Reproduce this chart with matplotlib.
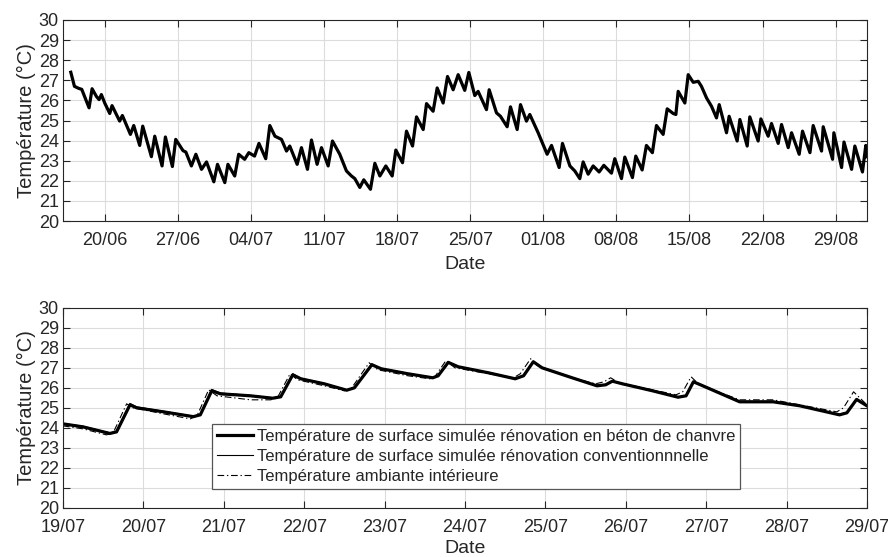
import numpy as np
import matplotlib
matplotlib.use("Agg")
import matplotlib.pyplot as plt
import matplotlib.dates as mdates

plt.rcParams['font.family'] = ['Liberation Sans', 'DejaVu Sans']

# ---------------- data ----------------
# Top panel: days after 16/06 00:00 and temperature (°C)
top_days = [0.75, 1.1, 1.5, 1.8, 2.5, 2.79, 3.2, 3.46, 3.68, 4.0, 4.48, 4.7, 5.43, 5.69,
            6.46, 6.78, 7.35, 7.64, 8.47, 8.79, 9.49, 9.81, 10.48, 10.8, 11.5, 11.77, 12.3,
            12.73, 13.27, 13.75, 14.45, 14.8, 15.5, 15.8, 16.45, 16.83, 17.4, 17.8, 18.35,
            18.77, 19.42, 19.81, 20.3, 20.93, 21.41, 21.72, 22.43, 22.84, 23.42, 23.8, 24.34,
            24.76, 25.4, 25.81, 26.51, 27.15, 27.63, 27.95, 28.43, 28.81, 29.45, 29.87, 30.35,
            30.92, 31.53, 31.88, 32.52, 32.9, 33.48, 33.86, 34.5, 34.82, 35.45, 35.84, 36.41,
            36.83, 37.37, 37.85, 38.48, 38.87, 39.44, 39.76, 40.56, 40.82, 41.52, 41.9, 42.54,
            42.86, 43.5, 43.82, 44.39, 44.71, 45.51, 46.37, 46.79, 47.52, 47.84, 48.55, 49.02,
            49.5, 49.82, 50.3, 50.78, 51.35, 51.8, 52.53, 52.85, 53.49, 53.81, 54.54, 54.86,
            55.47, 55.88, 56.45, 56.84, 57.48, 57.87, 58.44, 58.7, 58.92, 59.56, 59.88, 60.36,
            60.84, 61.15, 61.64, 62.11, 62.59, 62.85, 63.55, 63.8, 64.57, 64.83, 65.53, 65.78,
            66.58, 66.84, 67.54, 67.86, 68.5, 68.82, 69.46, 69.78, 70.51, 70.83, 71.54, 71.85,
            72.65, 72.81, 73.71, 73.83, 74.57, 74.8, 75.53, 75.84, 76.57, 76.89, 77.0]
top_hemp = [27.4, 26.7, 26.6, 26.55, 25.63, 26.58, 26.2, 26.04, 26.29, 25.87, 25.35, 25.74, 24.97, 25.25,
            24.31, 24.75, 23.76, 24.72, 23.2, 24.22, 22.74, 24.18, 22.71, 24.06, 23.5, 23.43, 22.74,
            23.32, 22.57, 22.94, 21.95, 22.82, 21.91, 22.82, 22.24, 23.32, 23.07, 23.4, 23.23,
            23.86, 23.1, 24.75, 24.22, 24.06, 23.48, 23.73, 22.82, 23.65, 22.57, 24.03, 22.82,
            23.65, 22.74, 23.98, 23.32, 22.49, 22.24, 22.11, 21.67, 22.05, 21.58, 22.87, 22.24,
            22.74, 22.24, 23.53, 22.9, 24.47, 23.73, 25.18, 24.55, 25.84, 25.46, 26.62, 25.87,
            27.19, 26.53, 27.28, 26.5, 27.39, 26.24, 26.45, 25.54, 26.53, 25.38, 25.21, 24.69,
            25.68, 24.55, 25.79, 24.97, 25.3, 24.39, 23.32, 23.76, 22.66, 23.86, 22.74, 22.49,
            22.11, 22.94, 22.33, 22.74, 22.44, 22.77, 22.38, 23.1, 22.11, 23.18, 22.16, 23.23,
            22.54, 23.76, 23.4, 24.75, 24.31, 25.58, 25.35, 25.3, 26.45, 25.87, 27.28, 26.9,
            26.95, 26.7, 26.12, 25.71, 25.13, 25.79, 24.39, 25.21, 23.98, 25.05, 23.73, 25.18,
            23.98, 25.08, 24.22, 24.85, 23.86, 24.8, 23.65, 24.39, 23.32, 24.47, 23.4, 24.75,
            23.48, 24.69, 23.07, 24.39, 22.66, 23.93, 22.57, 23.73, 22.44, 23.76, 23.2]
# at this scale the three series are indistinguishable in the top panel
top_conv = top_hemp
top_amb = top_hemp

# Bottom panel: hours after 19/07 00:00
bot_hours_hemp = [0, 6, 14, 16, 20, 22, 30, 38.9, 41, 44.4, 47, 56, 62.6, 65, 68.6, 71, 78, 84.7,
                  87, 92.2, 95, 103, 110.4, 112, 115, 118, 127, 135, 137.5, 140.4, 143, 152,
                  159.4, 162, 164, 167, 176, 183.6, 186, 188.2, 191, 202, 212, 220, 231.8,
                  234, 236.9, 240]
bot_hemp = [24.2, 24.05, 23.72, 23.8, 25.15, 25.0, 24.8, 24.56, 24.65, 25.85, 25.7, 25.6, 25.48,
            25.55, 26.65, 26.45, 26.2, 25.88, 26.0, 27.15, 26.95, 26.7, 26.5, 26.6, 27.27, 27.05,
            26.75, 26.45, 26.6, 27.3, 27.0, 26.5, 26.1, 26.15, 26.33, 26.2, 25.85, 25.53, 25.6,
            26.3, 26.1, 25.3, 25.3, 25.1, 24.65, 24.75, 25.42, 25.1]
bot_conv = [24.22, 24.08, 23.75, 23.83, 25.22, 25.05, 24.83, 24.58, 24.68, 25.92, 25.74, 25.62,
            25.5, 25.57, 26.7, 26.48, 26.22, 25.9, 26.02, 27.2, 26.97, 26.72, 26.52, 26.62, 27.3,
            27.07, 26.77, 26.47, 26.62, 27.33, 27.02, 26.52, 26.12, 26.17, 26.36, 26.22, 25.87,
            25.55, 25.62, 26.33, 26.12, 25.33, 25.33, 25.12, 24.68, 24.78, 25.45, 25.12]
bot_hours_amb = [0, 6, 13, 15, 19, 21, 30, 38, 40, 43.5, 46, 56, 62, 64, 67.8, 70, 78, 84, 86,
                 91.4, 94, 103, 109.5, 111, 114.3, 117, 127, 134.5, 136.5, 139.6, 142, 152,
                 159, 161.5, 163.5, 166, 176, 183, 185, 187.5, 190, 202, 212, 220, 231, 233,
                 236, 240]
bot_amb = [24.1, 23.95, 23.65, 23.75, 25.2, 25.0, 24.7, 24.45, 24.6, 25.9, 25.6, 25.4, 25.4, 25.5,
           26.7, 26.4, 26.1, 25.85, 25.95, 27.25, 26.9, 26.6, 26.45, 26.55, 27.35, 27.0, 26.7,
           26.5, 26.7, 27.45, 27.05, 26.5, 26.2, 26.3, 26.5, 26.25, 25.9, 25.65, 25.8, 26.55,
           26.15, 25.4, 25.4, 25.15, 24.8, 25.0, 25.8, 25.15]

labels = ['Température de surface simulée rénovation en béton de chanvre',
          'Température de surface simulée rénovation conventionnnelle',
          'Température ambiante intérieure']

top_start = np.datetime64('2019-06-16T00:00')
bot_start = np.datetime64('2019-07-19T00:00')


def to_time(start, values, unit_seconds):
    return start + (np.array(values) * unit_seconds).astype('timedelta64[s]')


# ---------------- figure ----------------
fig = plt.figure(figsize=(8.88, 5.57), dpi=100)
ax1 = fig.add_axes([0.0709, 0.6032, 0.9054, 0.3609])
ax2 = fig.add_axes([0.0709, 0.088, 0.9054, 0.3596])

dark = '#262626'


def style(ax):
    ax.set_ylim(20, 30)
    ax.set_yticks(range(20, 31))
    ax.grid(True, color='#dcdcdc', lw=0.8)
    ax.set_axisbelow(True)
    ax.tick_params(direction='in', top=True, right=True, length=5, width=0.8,
                   labelsize=13, colors=dark)
    ax.tick_params(axis='x', pad=8)
    ax.tick_params(axis='y', pad=3)
    for s in ax.spines.values():
        s.set_color(dark)
        s.set_linewidth(0.8)
    ax.set_ylabel('Température (°C)', fontsize=14.5, color=dark, labelpad=2)
    ax.set_xlabel('Date', fontsize=14, color=dark, labelpad=5)


dashdot = (0, (6, 2.5, 1.2, 2.5))

# top
t_top = to_time(top_start, top_days, 86400)
ax1.plot(t_top, top_amb, color='black', lw=0.7, ls=dashdot)
ax1.plot(t_top, top_conv, color='black', lw=0.8)
ax1.plot(t_top, top_hemp, color='black', lw=2.3)
style(ax1)
ax1.set_xlim(np.datetime64('2019-06-16'), np.datetime64('2019-09-01'))
ax1.set_xticks(np.arange(np.datetime64('2019-06-20'), np.datetime64('2019-09-01'), 7))
ax1.xaxis.set_major_formatter(mdates.DateFormatter('%d/%m'))

# bottom
l3, = ax2.plot(to_time(bot_start, bot_hours_amb, 3600), bot_amb, color='black', lw=0.8, ls=dashdot)
l2, = ax2.plot(to_time(bot_start, bot_hours_hemp, 3600), bot_conv, color='black', lw=0.8)
l1, = ax2.plot(to_time(bot_start, bot_hours_hemp, 3600), bot_hemp, color='black', lw=2.3)
style(ax2)
ax2.set_xlim(np.datetime64('2019-07-19'), np.datetime64('2019-07-29'))
ax2.xaxis.set_major_locator(mdates.DayLocator())
ax2.xaxis.set_major_formatter(mdates.DateFormatter('%d/%m'))
ax2.xaxis.labelpad = 3

leg = ax2.legend([l1, l2, l3], labels, loc='lower left', bbox_to_anchor=(0.185, 0.095),
                 borderaxespad=0, fontsize=12, fancybox=False, framealpha=1,
                 edgecolor='#555555', handlelength=2.2, handletextpad=0.2,
                 labelspacing=0.3, borderpad=0.3)
leg.get_frame().set_linewidth(0.9)
for txt in leg.get_texts():
    txt.set_color(dark)

fig.savefig('out.png', dpi=100)
